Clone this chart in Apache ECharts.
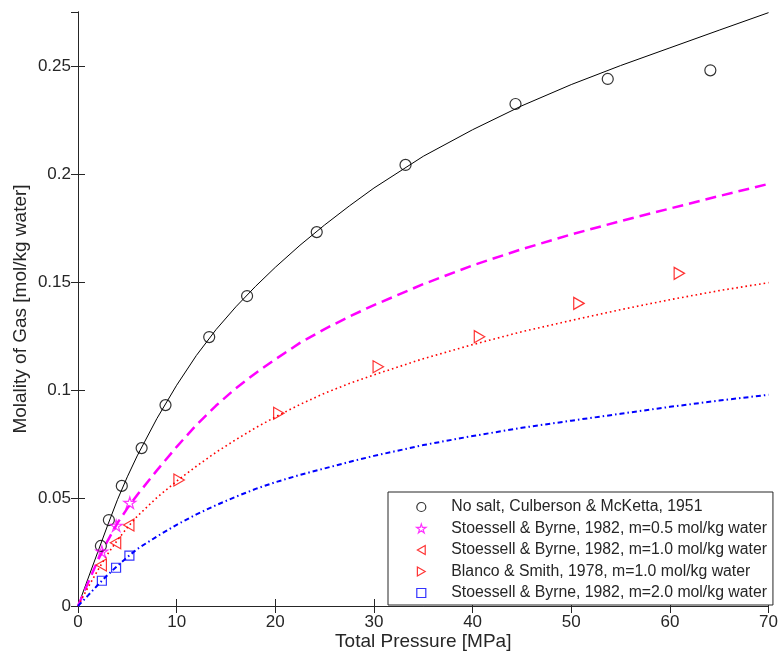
<!DOCTYPE html>
<html>
<head>
<meta charset="utf-8">
<script src="https://cdn.jsdelivr.net/npm/echarts@6.0.0/dist/echarts.min.js"></script>
<style>
    html, body { margin: 0; padding: 0; background: #fff; }
    #chart { width: 781px; height: 662px; }
</style>
</head>
<body>
<div id="chart"></div>
<script type="text/javascript">
    // pressure grid for the model curves [MPa]
    var pCurve = [0, 1, 2, 3, 4, 5, 6, 8, 10, 12, 14, 16, 18, 20, 22.5, 25, 27.5, 30, 35, 40, 45, 50, 55, 60, 65, 70];
    var mNoSalt = [0, 0.0125, 0.0249, 0.0373, 0.0492, 0.0598, 0.0695, 0.0868, 0.1022, 0.1160, 0.1280, 0.1385, 0.1480, 0.1568, 0.1670, 0.1764, 0.1852, 0.1935, 0.2082, 0.2205, 0.2316, 0.2414, 0.2502, 0.2584, 0.2666, 0.2747];
    var mSalt05 = [0, 0.0105, 0.0210, 0.0302, 0.0384, 0.0452, 0.0514, 0.0628, 0.0737, 0.0838, 0.0928, 0.1008, 0.1078, 0.1142, 0.1218, 0.1282, 0.1340, 0.1393, 0.1490, 0.1577, 0.1652, 0.1720, 0.1782, 0.1840, 0.1898, 0.1954];
    var mSalt10 = [0, 0.0085, 0.0165, 0.0240, 0.0305, 0.0363, 0.0415, 0.0502, 0.0578, 0.0647, 0.0712, 0.0770, 0.0825, 0.0875, 0.0933, 0.0985, 0.1030, 0.1070, 0.1145, 0.1210, 0.1270, 0.1322, 0.1372, 0.1418, 0.1460, 0.1497];
    var mSalt20 = [0, 0.0048, 0.0097, 0.0144, 0.0186, 0.0226, 0.0264, 0.0322, 0.0376, 0.0424, 0.0467, 0.0506, 0.0542, 0.0573, 0.0607, 0.0637, 0.0667, 0.0695, 0.0745, 0.0787, 0.0825, 0.0858, 0.0890, 0.0922, 0.0951, 0.0978];

    // measured points [pressure, molality]
    var culberson = [[2.32, 0.0278], [3.13, 0.0398], [4.44, 0.0556], [6.45, 0.0731], [8.87, 0.0930], [13.3, 0.1245], [17.14, 0.1435], [24.2, 0.1731], [33.2, 0.2042], [44.35, 0.2324], [53.7, 0.2440], [64.1, 0.2480]];
    var stoessell05 = [[2.42, 0.0252], [3.87, 0.0372], [5.25, 0.0478]];
    var stoessell10 = [[2.35, 0.0190], [3.80, 0.0293], [5.14, 0.0375]];
    var blanco10 = [[10.25, 0.0583], [20.36, 0.0892], [30.44, 0.1108], [40.7, 0.1247], [50.78, 0.1401], [60.96, 0.1540]];
    var stoessell20 = [[2.42, 0.0117], [3.86, 0.0177], [5.21, 0.0233]];

    var names = [
        'No salt, Culberson & McKetta, 1951',
        'Stoessell & Byrne, 1982, m=0.5 mol/kg water',
        'Stoessell & Byrne, 1982, m=1.0 mol/kg water',
        'Blanco & Smith, 1978, m=1.0 mol/kg water',
        'Stoessell & Byrne, 1982, m=2.0 mol/kg water'
    ];
    var xTicks = { min: 0, max: 70, interval: 10 };
    var yTicks = { min: 0, max: 0.275, interval: 0.05 };

    var starPath = 'path://M50,2 L61,36 L97,36 L68,57 L79,92 L50,70 L21,92 L32,57 L3,36 L39,36 Z';
    var triLeft = 'path://M0,50 L87,0 L87,100 Z';
    var triRight = 'path://M87,50 L0,0 L0,100 Z';
    var square = 'path://M0,0 L100,0 L100,100 L0,100 Z';
    var ink = '#262626';
    var clear = 'rgba(255,255,255,0)';
    var font = 'Liberation Sans, Arial, sans-serif';

    // marker looks, shared by plot and legend
    var marks = [
        { symbol: 'circle', size: 11, color: '#000000' },
        { symbol: starPath, size: 12, color: '#ff00ff' },
        { symbol: triLeft, size: 12, color: '#ff0000' },
        { symbol: triRight, size: 12, color: '#ff0000' },
        { symbol: square, size: 9, color: '#0000ff' }
    ];
    var pointSets = [culberson, stoessell05, stoessell10, blanco10, stoessell20];

    function pairs(xs, ys) {
        return xs.map(function (x, i) { return [x, ys[i]]; });
    }

    function curve(ys, color, width, dash) {
        return {
            type: 'line',
            data: pairs(pCurve, ys),
            showSymbol: false,
            smooth: false,
            silent: true,
            z: 2,
            lineStyle: { color: color, width: width, type: dash }
        };
    }

    var series = [
        curve(mNoSalt, '#000000', 1, 'solid'),
        curve(mSalt05, '#ff00ff', 2.5, [11, 6]),
        curve(mSalt10, '#ff0000', 1.6, [1.6, 3]),
        curve(mSalt20, '#0000ff', 2, [5, 3, 1.5, 3])
    ];
    var legendData = [];
    marks.forEach(function (m, i) {
        series.push({
            name: names[i],
            type: 'scatter',
            data: pointSets[i],
            symbol: m.symbol,
            symbolSize: m.size,
            symbolKeepAspect: true,
            z: 3,
            itemStyle: { color: clear, borderColor: m.color, borderWidth: 1.2 }
        });
        legendData.push({
            name: names[i],
            icon: m.symbol,
            itemStyle: { color: clear, borderColor: m.color, borderWidth: 1.2 }
        });
    });

    var chart = echarts.init(document.getElementById('chart'));
    chart.setOption({
        animation: false,
        backgroundColor: '#fff',
        textStyle: { fontFamily: font },
        grid: { left: 78, right: 9, top: 12, bottom: 56, containLabel: false },
        legend: {
            data: legendData,
            orient: 'vertical',
            left: 388,
            top: 492,
            padding: [7, 6, 4, 28],
            itemWidth: 50,
            itemHeight: 9,
            itemGap: 5.5,
            backgroundColor: '#fff',
            borderColor: ink,
            borderWidth: 1,
            borderRadius: 0,
            textStyle: { fontSize: 15.8, color: ink, fontFamily: font, lineHeight: 16 }
        },
        xAxis: [{
            type: 'value',
            min: xTicks.min, max: xTicks.max, interval: xTicks.interval,
            name: 'Total Pressure [MPa]',
            nameLocation: 'middle',
            nameGap: 26,
            nameMoveOverlap: false,
            nameTextStyle: { fontSize: 19, color: ink, fontFamily: font },
            axisLine: { show: true, lineStyle: { color: ink, width: 1 } },
            axisTick: { show: true, inside: true, length: 7, lineStyle: { color: ink } },
            axisLabel: { fontSize: 17, color: ink, margin: 8 },
            splitLine: { show: false }
        }, {
            type: 'value', position: 'top',
            min: xTicks.min, max: xTicks.max, interval: xTicks.interval,
            axisLine: { show: true, lineStyle: { color: ink, width: 1 } },
            axisTick: { show: true, inside: true, length: 7, lineStyle: { color: ink } },
            axisLabel: { show: false },
            splitLine: { show: false }
        }],
        yAxis: [{
            type: 'value',
            min: yTicks.min, max: yTicks.max, interval: yTicks.interval,
            name: 'Molality of Gas [mol/kg water]',
            nameLocation: 'middle',
            nameGap: 48,
            nameMoveOverlap: false,
            nameTextStyle: { fontSize: 19, color: ink, fontFamily: font },
            axisLine: { show: true, lineStyle: { color: ink, width: 1 } },
            axisTick: { show: true, inside: true, length: 7, lineStyle: { color: ink } },
            axisLabel: { fontSize: 17, color: ink, margin: 7, showMaxLabel: false },
            splitLine: { show: false }
        }, {
            type: 'value', position: 'right',
            min: yTicks.min, max: yTicks.max, interval: yTicks.interval,
            axisLine: { show: true, lineStyle: { color: ink, width: 1 } },
            axisTick: { show: true, inside: true, length: 7, lineStyle: { color: ink } },
            axisLabel: { show: false },
            splitLine: { show: false }
        }],
        series: series
    });
</script>
</body>
</html>
